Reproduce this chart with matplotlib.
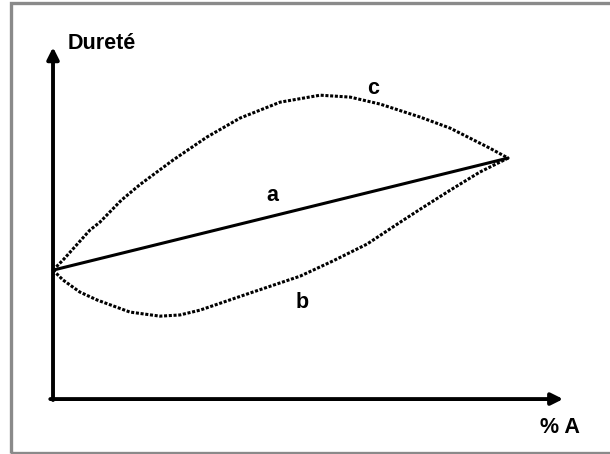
"""Dureté vs % A: linear (a), negative deviation (b), positive deviation (c)."""
import matplotlib
matplotlib.use("Agg")
import matplotlib.pyplot as plt
from matplotlib.patches import Rectangle

# curve values (x = % A, y = hardness, arbitrary units)
a_x = [0, 100]
a_y = [53.5, 100]

b_x = [0, 2.2, 5.9, 9.7, 16.9, 23.5, 27.9, 32.3, 43.3, 54.3, 61.5, 69.0,
       76.3, 80.7, 87.3, 93.8, 100]
b_y = [53.5, 49.4, 44.4, 41.1, 36.1, 34.4, 34.9, 36.9, 44.0, 51.0, 57.3, 64.3,
       73.4, 78.8, 86.7, 94.2, 100]

c_x = [0, 2.2, 8.1, 10.3, 15.0, 19.1, 26.4, 33.8, 41.1, 49.9, 58.7, 65.3,
       71.9, 80.7, 87.3, 91.6, 96.0, 100]
c_y = [53.5, 57.7, 70.1, 73.4, 82.5, 89.0, 99.2, 108.7, 116.6, 123.2, 126.1,
       125.3, 122.4, 117.0, 112.4, 108.3, 104.1, 100]

plt.rcParams["font.family"] = ["Liberation Sans", "DejaVu Sans"]

fig = plt.figure(figsize=(6.1, 4.54), dpi=100)
ax = fig.add_axes([0, 0, 1, 1])
ax.set_xlim(-11.65, 122.4)
ax.set_ylim(-22.8, 165.6)
ax.axis("off")

# grey frame round the drawing
fig.patches.append(Rectangle((10.5 / 610, 1.5 / 454), 610 / 610, 449.5 / 454,
                             transform=fig.transFigure, fill=False,
                             edgecolor="#8a8a8a", linewidth=2.4))

# axes with arrow heads
arrow = dict(arrowstyle="-|>,head_length=0.7,head_width=0.35", color="black",
             lw=2.8, shrinkA=0, shrinkB=0)
ax.annotate("", xy=(0, 146), xytext=(0, -0.4), arrowprops=arrow)
ax.annotate("", xy=(112.1, 0), xytext=(-0.6, 0), arrowprops=arrow)

dots = dict(color="black", lw=2.2, dashes=(1, 0.55), dash_capstyle="butt")
ax.plot(a_x, a_y, color="black", lw=2.2, solid_capstyle="round")
ax.plot(b_x, b_y, **dots)
ax.plot(c_x, c_y, **dots)

bold = dict(fontsize=15.5, fontweight="bold", color="black")
ax.text(48.1, 84.6, "a", ha="center", va="center", **bold)
ax.text(54.7, 40.0, "b", ha="center", va="center", **bold)
ax.text(70.4, 129.0, "c", ha="center", va="center", **bold)
ax.text(3.3, 147.7, "Dureté", ha="left", va="center", **bold)
ax.text(111.3, -11.6, "% A", ha="center", va="center", **bold)

fig.savefig("out.png", dpi=100)
